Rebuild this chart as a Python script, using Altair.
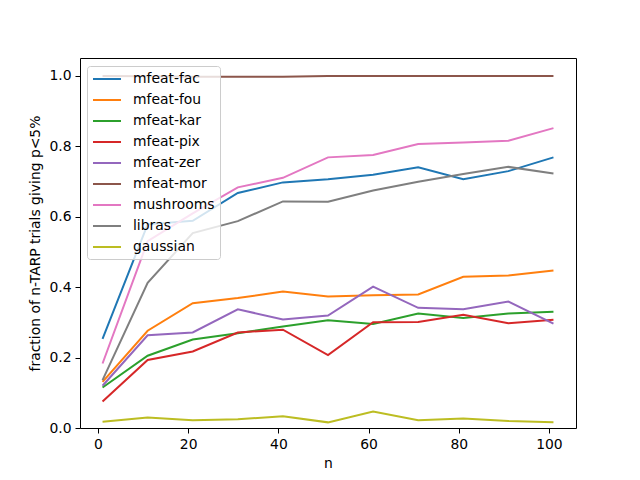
import altair as alt
import pandas as pd

n_values = [1, 11, 21, 31, 41, 51, 61, 71, 81, 91, 101]

names = ["mfeat-fac", "mfeat-fou", "mfeat-kar", "mfeat-pix", "mfeat-zer",
         "mfeat-mor", "mushrooms", "libras", "gaussian"]
colors = ["#1f77b4", "#ff7f0e", "#2ca02c", "#d62728", "#9467bd",
          "#8c564b", "#e377c2", "#7f7f7f", "#bcbd22"]

mfeat_fac = [0.253, 0.578, 0.588, 0.667, 0.697, 0.706, 0.719, 0.740, 0.706, 0.729, 0.768]
mfeat_fou = [0.131, 0.276, 0.354, 0.369, 0.387, 0.373, 0.377, 0.379, 0.429, 0.433, 0.447]
mfeat_kar = [0.115, 0.205, 0.251, 0.269, 0.288, 0.306, 0.295, 0.325, 0.312, 0.325, 0.330]
mfeat_pix = [0.075, 0.193, 0.217, 0.271, 0.279, 0.207, 0.300, 0.301, 0.321, 0.297, 0.307]
mfeat_zer = [0.120, 0.263, 0.271, 0.337, 0.308, 0.319, 0.401, 0.341, 0.337, 0.359, 0.296]
mfeat_mor = [0.999, 0.998, 0.997, 0.997, 0.997, 0.999, 0.999, 0.999, 0.999, 0.999, 0.999]
mushrooms = [0.183, 0.530, 0.609, 0.683, 0.710, 0.768, 0.775, 0.806, 0.810, 0.815, 0.851]
libras = [0.136, 0.412, 0.553, 0.587, 0.643, 0.642, 0.674, 0.699, 0.721, 0.741, 0.722]
gaussian = [0.018, 0.030, 0.022, 0.025, 0.033, 0.016, 0.047, 0.022, 0.027, 0.020, 0.016]

series = [mfeat_fac, mfeat_fou, mfeat_kar, mfeat_pix, mfeat_zer,
          mfeat_mor, mushrooms, libras, gaussian]

rows = []
for i, (name, vals) in enumerate(zip(names, series)):
    for n, v in zip(n_values, vals):
        rows.append({"n": n, "fraction": v, "dataset": name, "order": i})
df = pd.DataFrame(rows)

chart = alt.Chart(df).mark_line(strokeWidth=2, clip=True).encode(
    x=alt.X("n:Q", title="n",
            scale=alt.Scale(domain=[-4, 106], nice=False, zero=False),
            axis=alt.Axis(values=[0, 20, 40, 60, 80, 100], format="d")),
    y=alt.Y("fraction:Q", title="fraction of n-TARP trials giving p<5%",
            scale=alt.Scale(domain=[0, 1.05], nice=False),
            axis=alt.Axis(values=[0, 0.2, 0.4, 0.6, 0.8, 1.0], format=".1f")),
    color=alt.Color("dataset:N",
                    scale=alt.Scale(domain=names, range=colors),
                    legend=alt.Legend(title=None, orient="none", legendX=7, legendY=8,
                                      symbolType="M-2,0H2", symbolSize=196,
                                      symbolStrokeWidth=2, symbolOffset=7,
                                      labelOffset=18,
                                      labelFontSize=13.9, rowPadding=6,
                                      padding=5, fillColor="rgba(255,255,255,0.8)",
                                      strokeColor="#cccccc", cornerRadius=3,
                                      labelColor="black", labelFont="DejaVu Sans")),
    detail="order:O",
    order="order:O",
).properties(
    width=496, height=370,
    autosize=alt.AutoSizeParams(type="none"),
    padding={"left": 72, "top": 50, "right": 56, "bottom": 44},
).configure_view(
    stroke="black", strokeWidth=1
).configure_axis(
    grid=False, domain=False, tickColor="black", tickSize=5, tickWidth=1,
    labelFont="DejaVu Sans", labelFontSize=13.9, labelColor="black", labelPadding=4,
    titleFont="DejaVu Sans", titleFontSize=13.9, titleColor="black",
    titleFontWeight="normal", titlePadding=6
)

chart.save("out.html", embed_options={"renderer": "svg", "actions": False})
